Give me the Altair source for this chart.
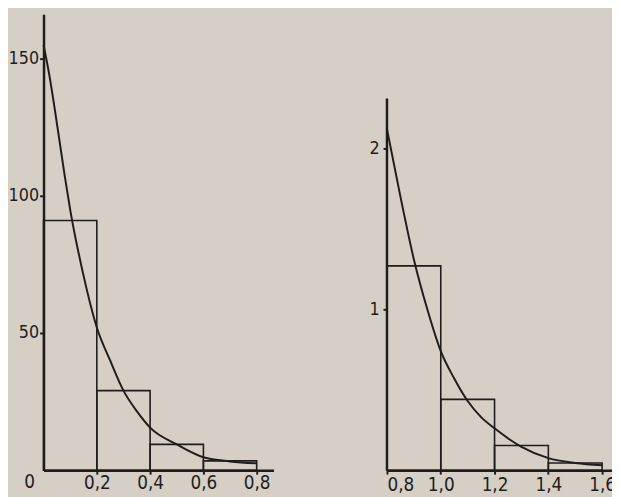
import altair as alt
import pandas as pd

INK = "#1f1d1b"
PAPER = "#d6cfc6"
FONT = "Liberation Sans Narrow, DejaVu Sans Condensed, sans-serif"

# ---------------- left panel data ----------------
left_bin_start = [0.0, 0.2, 0.4, 0.6]
left_bin_end = [0.2, 0.4, 0.6, 0.8]
left_bin_height = [91, 29, 9.4, 3.4]
left_curve_x = [0.0, 0.02, 0.04, 0.06, 0.08, 0.1, 0.15, 0.2, 0.25, 0.3, 0.35, 0.4, 0.5, 0.6, 0.7, 0.8]
left_curve_y = [155, 145, 133, 120, 107, 95, 71, 52, 40, 29, 21.5, 15.5, 9.4, 4.7, 3.2, 2.5]
left_x_ticks = [0.2, 0.4, 0.6, 0.8]
left_y_ticks = [50, 100, 150]
left_origin_label = ["0"]

# ---------------- right panel data ----------------
right_bin_start = [0.8, 1.0, 1.2, 1.4]
right_bin_end = [1.0, 1.2, 1.4, 1.6]
right_bin_height = [1.27, 0.44, 0.153, 0.045]
right_curve_x = [0.8, 0.85, 0.9, 0.95, 1.0, 1.05, 1.1, 1.15, 1.2, 1.3, 1.4, 1.5, 1.6]
right_curve_y = [2.12, 1.70, 1.31, 1.0, 0.74, 0.57, 0.43, 0.33, 0.26, 0.145, 0.075, 0.045, 0.03]
right_x_ticks = [0.8, 1.0, 1.2, 1.4, 1.6]
right_y_ticks = [1, 2]
right_axis_top = [2.31]

comma = "replace(format(datum.value, '.1f'), '.', ',')"


def panel(bs, be, bh, cx, cy, xdom, ydom, xticks, yticks, w, h,
          ylab_pad, xlab_pad, ydomain_line, axis_top=None, origin=None):
    xs = alt.Scale(domain=xdom, nice=False, zero=False)
    ys = alt.Scale(domain=ydom, nice=False, zero=False)
    xax = alt.Axis(values=xticks, labelExpr=comma, title=None, grid=False,
                   tickSize=4, labelPadding=xlab_pad, labelFontSize=19)
    yax = alt.Axis(values=yticks, format="d", title=None, grid=False,
                   tickSize=4, labelPadding=ylab_pad, labelFontSize=18,
                   domain=ydomain_line)
    bars_df = pd.DataFrame({"x0": bs, "x1": be, "h": bh})
    curve_df = pd.DataFrame({"x": cx, "y": cy})
    bars = alt.Chart(bars_df).mark_rect(
        fill="transparent", stroke=INK, strokeWidth=1.6
    ).encode(
        x=alt.X("x0:Q", scale=xs, axis=xax),
        x2="x1:Q",
        y=alt.Y("h:Q", scale=ys, axis=yax),
        y2=alt.datum(0),
    )
    curve = alt.Chart(curve_df).mark_line(
        color=INK, strokeWidth=2, interpolate="monotone"
    ).encode(
        x=alt.X("x:Q", scale=xs, axis=xax),
        y=alt.Y("y:Q", scale=ys, axis=yax),
    )
    layers = [bars, curve]
    if axis_top is not None:
        ax_df = pd.DataFrame({"x": [xdom[0]], "y0": [0], "y1": axis_top})
        layers.append(
            alt.Chart(ax_df).mark_rule(color=INK, strokeWidth=2.5).encode(
                x=alt.X("x:Q", scale=xs, axis=xax),
                y=alt.Y("y0:Q", scale=ys, axis=yax),
                y2="y1:Q",
            )
        )
    if origin is not None:
        o_df = pd.DataFrame({"x": [xdom[0]], "y": [0], "t": origin})
        layers.append(
            alt.Chart(o_df).mark_text(
                dx=-14, dy=3, baseline="top", font=FONT, fontSize=19, color=INK
            ).encode(
                x=alt.X("x:Q", scale=xs, axis=xax),
                y=alt.Y("y:Q", scale=ys, axis=yax),
                text="t:N",
            )
        )
    return alt.layer(*layers).properties(width=w, height=h)


left = panel(left_bin_start, left_bin_end, left_bin_height, left_curve_x, left_curve_y,
             [0, 0.863], [0, 166.2], left_x_ticks, left_y_ticks, 233, 462,
             ylab_pad=1, xlab_pad=0, ydomain_line=True, origin=left_origin_label)

right = panel(right_bin_start, right_bin_end, right_bin_height, right_curve_x, right_curve_y,
              [0.8, 1.6367], [0, 2.834], right_x_ticks, right_y_ticks, 228, 462,
              ylab_pad=4, xlab_pad=2, ydomain_line=False, axis_top=right_axis_top)

# fixed-size view: content origin at (36, 0), total 612 x 489 (clips the 1,6 label like the scan)
chart = alt.hconcat(left, right, spacing=115, bounds="flush").properties(
    autosize=alt.AutoSizeParams(type="none"),
    padding={"left": 36, "top": 0, "right": 576, "bottom": 489},
    background=PAPER,
).configure_view(stroke=None).configure_axis(
    domainColor=INK, domainWidth=2.5, tickColor=INK, tickWidth=2,
    labelColor=INK, labelFont=FONT,
)

chart.save("out.html", embed_options={"renderer": "svg", "actions": False})
